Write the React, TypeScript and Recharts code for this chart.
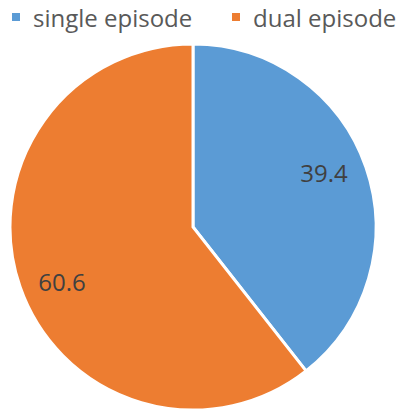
import React from 'react';
import { PieChart, Pie, Cell } from 'recharts';

const categories = ['single episode', 'dual episode'];
const values = [39.4, 60.6];
const colors = ['#5B9BD5', '#ED7D31'];

const data = categories.map((name, i) => ({ name, value: values[i] }));

const RAD = Math.PI / 180;
const FONT = "'Open Sans', sans-serif";

const renderLabel = (props: any) => {
  const { cx, cy, midAngle, outerRadius, value } = props;
  const r = outerRadius * 0.775;
  const a = midAngle + 3.5;
  const x = cx + r * Math.cos(-a * RAD);
  const y = cy + r * Math.sin(-a * RAD);
  return (
    <text x={x} y={y} fill="#404040" fontSize={24} fontFamily={FONT} textAnchor="middle" dominantBaseline="central">
      {value.toFixed(1)}
    </text>
  );
};

const legendX = [12, 232];

export default function App() {
  return (
    <div style={{ position: 'fixed', left: 0, top: 0, width: 401, height: 412, background: '#fff' }}>
      <PieChart width={401} height={412} margin={{ top: 0, right: 0, bottom: 0, left: 0 }}>
        <Pie
          data={data}
          dataKey="value"
          nameKey="name"
          cx={193}
          cy={227}
          outerRadius={183}
          startAngle={90}
          endAngle={-270}
          stroke="#ffffff"
          strokeWidth={3}
          label={renderLabel}
          labelLine={false}
          isAnimationActive={false}
        >
          {data.map((d, i) => (
            <Cell key={d.name} fill={colors[i]} />
          ))}
        </Pie>
      </PieChart>
      {categories.map((c, i) => (
        <div
          key={c}
          style={{
            position: 'absolute',
            left: legendX[i],
            top: 0,
            height: 34,
            display: 'flex',
            alignItems: 'center',
            fontFamily: FONT,
            fontSize: 24,
            color: '#595959',
            whiteSpace: 'nowrap',
          }}
        >
          <span style={{ display: 'inline-block', width: 8, height: 8, background: colors[i], marginRight: 13 }} />
          <span>{c}</span>
        </div>
      ))}
    </div>
  );
}
